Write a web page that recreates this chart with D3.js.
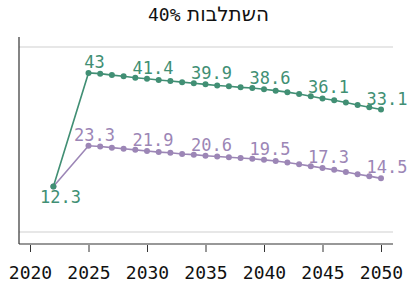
<!DOCTYPE html>
<html>
<head>
<meta charset="utf-8">
<script src="https://cdn.jsdelivr.net/npm/d3@7"></script>
<style>
  body { margin: 0; background: #fff; }
  svg { display: block; }
</style>
</head>
<body>
<div id="chart"></div>
<script>
// data
const years = [2022, 2025, 2026, 2027, 2028, 2029, 2030, 2031, 2032, 2033, 2034, 2035, 2036, 2037,
    2038, 2039, 2040, 2041, 2042, 2043, 2044, 2045, 2046, 2047, 2048, 2049, 2050];
const greenValues = [12.3, 43, 42.8, 42.4, 42.1, 41.7, 41.4, 41.1, 40.8, 40.5, 40.2, 39.9, 39.6, 39.4,
    39.1, 38.9, 38.6, 38.2, 37.8, 37.3, 36.7, 36.1, 35.6, 35.0, 34.3, 33.7, 33.1];
const purpleValues = [12.3, 23.3, 23.1, 22.8, 22.5, 22.2, 21.9, 21.6, 21.4, 21.1, 20.9, 20.6, 20.4, 20.2,
    20.0, 19.8, 19.5, 19.2, 18.8, 18.3, 17.8, 17.3, 16.8, 16.2, 15.6, 15.1, 14.5];
const labelYears = [2025, 2030, 2035, 2040, 2045, 2050];
const xTicks = [2020, 2025, 2030, 2035, 2040, 2045, 2050];
const gridValues = [0, 50];
const titleWord = "השתלבות";
const titleNumber = "40%";

const W = 415, H = 289;
const mono = "'DejaVu Sans Mono', monospace";

const svg = d3.select("#chart").append("svg")
    .attr("width", W)
    .attr("height", H);

const x = d3.scaleLinear().domain([2020, 2050]).range([30, 381]);
const y = d3.scaleLinear().domain([0, 50]).range([232, 47]);

const plotLeft = 19, plotRight = 393, plotTop = 37, plotBottom = 244;

// title (hebrew word on the right, the number on the left)
svg.append("text")
    .attr("x", 269)
    .attr("y", 21)
    .attr("text-anchor", "end")
    .style("font-family", "'DejaVu Sans', sans-serif")
    .style("font-size", "20px")
    .attr("fill", "#111")
    .text(titleWord);
svg.append("text")
    .attr("x", 148)
    .attr("y", 21)
    .attr("text-anchor", "start")
    .style("font-family", mono)
    .style("font-size", "18px")
    .attr("fill", "#111")
    .text(titleNumber);

// gridlines
svg.append("g")
    .selectAll("line")
    .data(gridValues)
    .join("line")
    .attr("x1", plotLeft).attr("x2", plotRight)
    .attr("y1", d => y(d)).attr("y2", d => y(d))
    .attr("stroke", "#cfcfcf")
    .attr("stroke-width", 1);

// axes
svg.append("line")
    .attr("x1", plotLeft).attr("x2", plotLeft)
    .attr("y1", plotTop).attr("y2", plotBottom)
    .attr("stroke", "#333").attr("stroke-width", 1.2);

const xAxis = svg.append("g")
    .attr("transform", "translate(0," + plotBottom + ")")
    .call(d3.axisBottom(x).tickValues(xTicks).tickFormat(d3.format("d")).tickSize(7).tickPadding(15));
xAxis.select(".domain").remove();
xAxis.selectAll(".tick line").attr("stroke", "#333").attr("transform", "translate(0,1)");
xAxis.selectAll("text")
    .style("font-family", mono)
    .style("font-size", "18px")
    .attr("fill", "#111");
svg.append("line")
    .attr("x1", plotLeft).attr("x2", plotRight)
    .attr("y1", plotBottom).attr("y2", plotBottom)
    .attr("stroke", "#333").attr("stroke-width", 1.2);

// series
const series = [
    { values: purpleValues, color: "#9c86b6" },
    { values: greenValues, color: "#418f74" }
];

const line = d3.line()
    .x((d, i) => x(years[i]))
    .y(d => y(d));

series.forEach(function(s) {
    const g = svg.append("g");
    g.append("path")
        .attr("d", line(s.values))
        .attr("fill", "none")
        .attr("stroke", s.color)
        .attr("stroke-width", 1.6);
    g.selectAll("circle")
        .data(s.values)
        .join("circle")
        .attr("cx", (d, i) => x(years[i]))
        .attr("cy", d => y(d))
        .attr("r", 3)
        .attr("fill", s.color);
    g.selectAll("text")
        .data(labelYears)
        .join("text")
        .attr("x", d => x(d) + 6)
        .attr("y", d => y(s.values[years.indexOf(d)]) - 5)
        .attr("text-anchor", "middle")
        .style("font-family", mono)
        .style("font-size", "17px")
        .attr("fill", s.color)
        .text(d => s.values[years.indexOf(d)]);
});

// starting value label below the first point
svg.append("text")
    .attr("x", x(years[0]) + 7)
    .attr("y", y(greenValues[0]) + 17)
    .attr("text-anchor", "middle")
    .style("font-family", mono)
    .style("font-size", "17px")
    .attr("fill", "#418f74")
    .text(greenValues[0]);
</script>
</body>
</html>
